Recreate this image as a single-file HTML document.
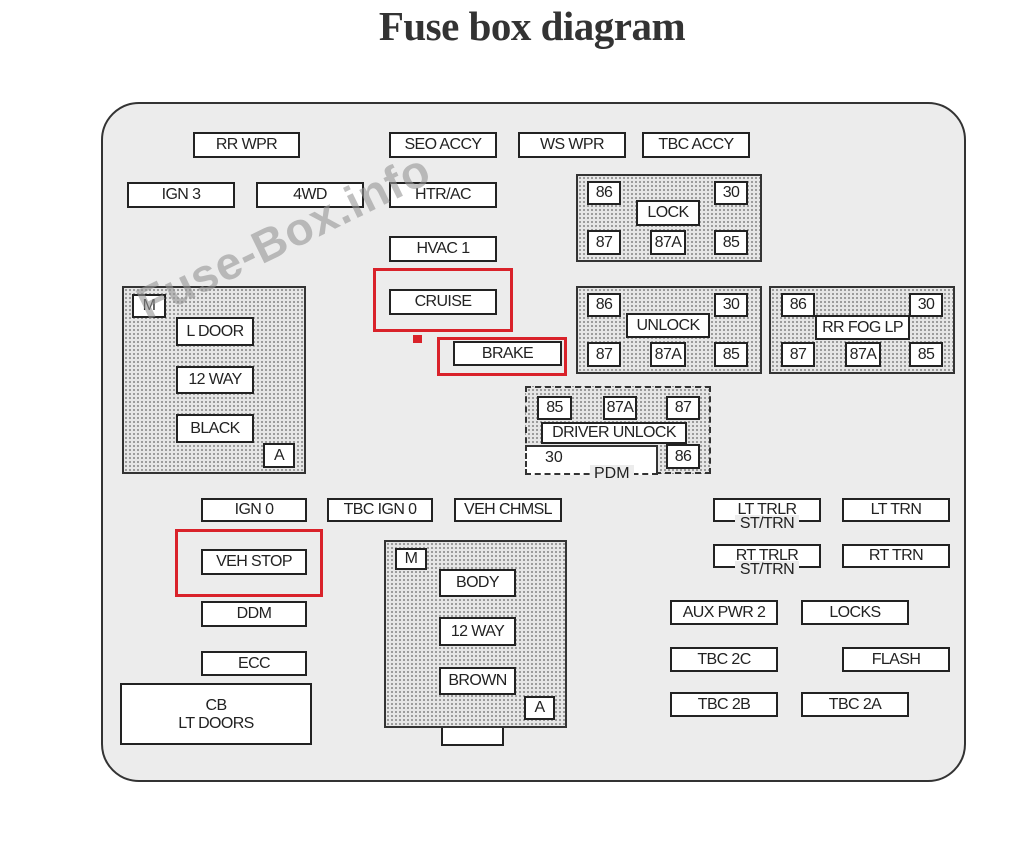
<!DOCTYPE html>
<html><head><meta charset="utf-8"><style>
*{box-sizing:border-box;margin:0;padding:0}
body{width:1036px;height:852px;background:#fff;position:relative;overflow:hidden;font-family:"Liberation Sans",Arial,sans-serif}
.t{position:absolute;left:0;width:1064px;top:2px;text-align:center;font-family:"Liberation Serif",serif;font-weight:bold;font-size:41px;color:#333;letter-spacing:-0.5px}
.panel{position:absolute;left:101px;top:102px;width:865px;height:680px;background:#ececec;border:2px solid #333;border-radius:38px}
.b{position:absolute;border:2px solid #222;background:#fff;display:flex;align-items:center;justify-content:center;font-size:16px;color:#222;letter-spacing:-0.6px;white-space:nowrap;line-height:1}
.d{position:absolute;border:2px solid #333;background-color:#e6e6e6;background-image:radial-gradient(#888 0.8px,transparent 1.1px);background-size:4px 4px}
.r{position:absolute;border:3px solid #d9222a}
.wm{position:absolute;font-size:46px;font-weight:bold;color:rgba(150,150,150,0.6);transform:rotate(-26deg);transform-origin:left top;letter-spacing:1px;font-family:"Liberation Sans",sans-serif;z-index:5}
</style></head><body>
<div class="t">Fuse box diagram</div>
<div class="panel"></div>

<div class="b" style="left:193px;top:132px;width:107px;height:26px">RR WPR</div>
<div class="b" style="left:389px;top:132px;width:108px;height:26px">SEO ACCY</div>
<div class="b" style="left:518px;top:132px;width:108px;height:26px">WS WPR</div>
<div class="b" style="left:642px;top:132px;width:108px;height:26px">TBC ACCY</div>
<div class="b" style="left:127px;top:182px;width:108px;height:26px">IGN 3</div>
<div class="b" style="left:256px;top:182px;width:108px;height:26px">4WD</div>
<div class="b" style="left:389px;top:182px;width:108px;height:26px">HTR/AC</div>
<div class="b" style="left:389px;top:236px;width:108px;height:26px">HVAC 1</div>
<div class="r" style="left:373px;top:268px;width:140px;height:64px"></div>
<div class="b" style="left:389px;top:289px;width:108px;height:26px">CRUISE</div>
<div style="position:absolute;left:413px;top:335px;width:9px;height:8px;background:#d9222a"></div>
<div class="r" style="left:437px;top:337px;width:130px;height:39px"></div>
<div class="b" style="left:453px;top:341px;width:109px;height:25px">BRAKE</div>

<div class="d" style="left:576px;top:174px;width:186px;height:88px"></div>
<div class="b" style="left:587px;top:181px;width:34px;height:24px">86</div>
<div class="b" style="left:714px;top:181px;width:34px;height:24px">30</div>
<div class="b" style="left:636px;top:200px;width:64px;height:26px">LOCK</div>
<div class="b" style="left:587px;top:230px;width:34px;height:25px">87</div>
<div class="b" style="left:650px;top:230px;width:36px;height:25px">87A</div>
<div class="b" style="left:714px;top:230px;width:34px;height:25px">85</div>

<div class="d" style="left:576px;top:286px;width:186px;height:88px"></div>
<div class="b" style="left:587px;top:293px;width:34px;height:24px">86</div>
<div class="b" style="left:714px;top:293px;width:34px;height:24px">30</div>
<div class="b" style="left:626px;top:313px;width:84px;height:25px">UNLOCK</div>
<div class="b" style="left:587px;top:342px;width:34px;height:25px">87</div>
<div class="b" style="left:650px;top:342px;width:36px;height:25px">87A</div>
<div class="b" style="left:714px;top:342px;width:34px;height:25px">85</div>

<div class="d" style="left:769px;top:286px;width:186px;height:88px"></div>
<div class="b" style="left:781px;top:293px;width:34px;height:24px">86</div>
<div class="b" style="left:909px;top:293px;width:34px;height:24px">30</div>
<div class="b" style="left:815px;top:315px;width:95px;height:25px">RR FOG LP</div>
<div class="b" style="left:781px;top:342px;width:34px;height:25px">87</div>
<div class="b" style="left:845px;top:342px;width:36px;height:25px">87A</div>
<div class="b" style="left:909px;top:342px;width:34px;height:25px">85</div>

<div class="d" style="left:525px;top:386px;width:186px;height:88px;border-style:dashed"></div>
<div style="position:absolute;left:525px;top:445px;width:133px;height:30px;background:#fff;border-left:2px dashed #333;border-top:2px solid #333;border-right:2px solid #333;border-bottom:2px dashed #333"></div>
<div style="position:absolute;left:545px;top:449px;font-size:16px;color:#222">30</div>
<div style="position:absolute;left:590px;top:465px;font-size:16px;color:#222;background:#ececec;padding:0 4px;line-height:17px">PDM</div>
<div class="b" style="left:537px;top:396px;width:35px;height:24px">85</div>
<div class="b" style="left:603px;top:396px;width:34px;height:24px">87A</div>
<div class="b" style="left:666px;top:396px;width:34px;height:24px">87</div>
<div class="b" style="left:541px;top:422px;width:146px;height:22px">DRIVER UNLOCK</div>
<div class="b" style="left:666px;top:444px;width:34px;height:25px">86</div>

<div class="d" style="left:122px;top:286px;width:184px;height:188px"></div>
<div class="b" style="left:132px;top:294px;width:34px;height:24px">M</div>
<div class="b" style="left:176px;top:317px;width:78px;height:29px">L DOOR</div>
<div class="b" style="left:176px;top:366px;width:78px;height:28px">12 WAY</div>
<div class="b" style="left:176px;top:414px;width:78px;height:29px">BLACK</div>
<div class="b" style="left:263px;top:443px;width:32px;height:25px">A</div>

<div class="b" style="left:201px;top:498px;width:106px;height:24px">IGN 0</div>
<div class="b" style="left:327px;top:498px;width:106px;height:24px">TBC IGN 0</div>
<div class="b" style="left:454px;top:498px;width:108px;height:24px">VEH CHMSL</div>
<div class="r" style="left:175px;top:529px;width:148px;height:68px"></div>
<div class="b" style="left:201px;top:549px;width:106px;height:26px">VEH STOP</div>
<div class="b" style="left:201px;top:601px;width:106px;height:26px">DDM</div>
<div class="b" style="left:201px;top:651px;width:106px;height:25px">ECC</div>
<div class="b" style="left:120px;top:683px;width:192px;height:62px;display:block;text-align:center;line-height:18px;padding-top:12px">CB<br>LT DOORS</div>

<div style="position:absolute;left:441px;top:724px;width:63px;height:22px;border:2px solid #222;background:#fff"></div>
<div class="d" style="left:384px;top:540px;width:183px;height:188px"></div>
<div class="b" style="left:395px;top:548px;width:32px;height:22px">M</div>
<div class="b" style="left:439px;top:569px;width:77px;height:28px">BODY</div>
<div class="b" style="left:439px;top:617px;width:77px;height:29px">12 WAY</div>
<div class="b" style="left:439px;top:667px;width:77px;height:28px">BROWN</div>
<div class="b" style="left:524px;top:696px;width:31px;height:24px">A</div>

<div class="b" style="left:713px;top:498px;width:108px;height:24px;align-items:flex-start;padding-top:2px">LT TRLR</div>
<div style="position:absolute;left:735px;top:515px;width:64px;text-align:center;background:#ececec;font-size:16px;letter-spacing:-0.6px;color:#222;line-height:18px">ST/TRN</div>
<div class="b" style="left:713px;top:544px;width:108px;height:24px;align-items:flex-start;padding-top:2px">RT TRLR</div>
<div style="position:absolute;left:735px;top:561px;width:64px;text-align:center;background:#ececec;font-size:16px;letter-spacing:-0.6px;color:#222;line-height:18px">ST/TRN</div>
<div class="b" style="left:842px;top:498px;width:108px;height:24px">LT TRN</div>
<div class="b" style="left:842px;top:544px;width:108px;height:24px">RT TRN</div>
<div class="b" style="left:670px;top:600px;width:108px;height:25px">AUX PWR 2</div>
<div class="b" style="left:801px;top:600px;width:108px;height:25px">LOCKS</div>
<div class="b" style="left:670px;top:647px;width:108px;height:25px">TBC 2C</div>
<div class="b" style="left:842px;top:647px;width:108px;height:25px">FLASH</div>
<div class="b" style="left:670px;top:692px;width:108px;height:25px">TBC 2B</div>
<div class="b" style="left:801px;top:692px;width:108px;height:25px">TBC 2A</div>

<div class="wm" style="left:128px;top:282px">Fuse-Box.info</div>
</body></html>
